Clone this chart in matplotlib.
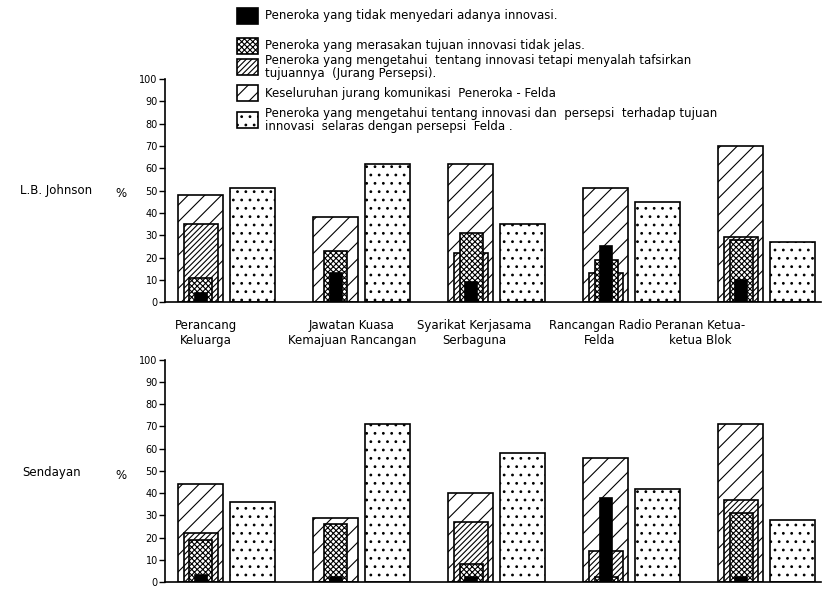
import matplotlib
matplotlib.use("Agg")
import matplotlib.pyplot as plt
import matplotlib.patches as mpatches
import numpy as np

groups = ["Perancang\nKeluarga", "Jawatan Kuasa\nKemajuan Rancangan",
          "Syarikat Kerjasama\nSerbaguna", "Rancangan Radio\nFelda",
          "Peranan Ketua-\nketua Blok"]

# L.B. Johnson (%)
overall_lbj = [48, 38, 62, 51, 70]
persepsi_lbj = [35, 0, 22, 13, 29]
tidak_jelas_lbj = [11, 23, 31, 19, 28]
tidak_sedar_lbj = [4, 13, 9, 25, 10]
selaras_lbj = [51, 62, 35, 45, 27]

# Sendayan (%)
overall_sen = [44, 29, 40, 56, 71]
persepsi_sen = [22, 0, 27, 14, 37]
tidak_jelas_sen = [19, 26, 8, 2, 31]
tidak_sedar_sen = [3, 2, 2, 38, 2]
selaras_sen = [36, 71, 58, 42, 28]

legend_labels = [
    "Peneroka yang tidak menyedari adanya innovasi.",
    "Peneroka yang merasakan tujuan innovasi tidak jelas.",
    "Peneroka yang mengetahui  tentang innovasi tetapi menyalah tafsirkan\ntujuannya  (Jurang Persepsi).",
    "Keseluruhan jurang komunikasi  Peneroka - Felda",
    "Peneroka yang mengetahui tentang innovasi dan  persepsi  terhadap tujuan\ninnovasi  selaras dengan persepsi  Felda .",
]

# fill style of each series: (facecolor, hatch)
styles = [("black", None), ("white", "xxxxxx"), ("white", "//////"),
          ("white", "//"), ("white", "..")]

plt.rcParams["hatch.linewidth"] = 0.8
plt.rcParams["font.family"] = "DejaVu Sans"

W, H = 828, 589
fig = plt.figure(figsize=(W / 100, H / 100), dpi=100)
ax_top = fig.add_axes([0.199, 0.487, 0.792, 0.379])
ax_bot = fig.add_axes([0.199, 0.012, 0.792, 0.377])

x = np.arange(len(groups))


def draw_panel(ax, overall, persepsi, tidak_jelas, tidak_sedar, selaras):
    kw = dict(align="edge", edgecolor="black", linewidth=1.2)
    ax.bar(x, overall, width=0.333, facecolor=styles[3][0], hatch=styles[3][1], **kw)
    ax.bar(x + 0.045, persepsi, width=0.25, facecolor=styles[2][0], hatch=styles[2][1], **kw)
    ax.bar(x + 0.085, tidak_jelas, width=0.17, facecolor=styles[1][0], hatch=styles[1][1], **kw)
    ax.bar(x + 0.125, tidak_sedar, width=0.09, facecolor=styles[0][0], **kw)
    ax.bar(x + 0.385, selaras, width=0.333, facecolor=styles[4][0], hatch=styles[4][1], **kw)

    ax.set_xlim(-0.096, 4.756)
    ax.set_ylim(0, 100)
    ax.set_yticks(range(0, 101, 10))
    ax.tick_params(axis="y", labelsize=7, length=4, width=1, pad=1)
    ax.set_xticks([])
    ax.spines["top"].set_visible(False)
    ax.spines["right"].set_visible(False)
    ax.spines["left"].set_linewidth(1.2)
    ax.spines["bottom"].set_linewidth(1.2)
    ax.patch.set_alpha(0)


draw_panel(ax_top, overall_lbj, persepsi_lbj, tidak_jelas_lbj, tidak_sedar_lbj, selaras_lbj)
draw_panel(ax_bot, overall_sen, persepsi_sen, tidak_jelas_sen, tidak_sedar_sen, selaras_sen)

# category labels sit between the two panels
label_x = [206, 352, 474, 600, 700]
for lx, name in zip(label_x, groups):
    fig.text(lx / W, 0.435, name, ha="center", va="center",
             fontsize=8.5, linespacing=1.15, multialignment="center")

fig.text(20 / W, 0.677, "L.B. Johnson", fontsize=8.5, va="center")
fig.text(115 / W, 0.672, "%", fontsize=8.5, va="center")
fig.text(22 / W, 0.197, "Sendayan", fontsize=8.5, va="center")
fig.text(115 / W, 0.192, "%", fontsize=8.5, va="center")

# hand-placed legend at the top (pixel rows of the scanned original)
row_y = [16, 46, 67, 93, 120]
for (fc, hatch), label, ry in zip(styles, legend_labels, row_y):
    box = mpatches.Rectangle((237 / W, 1 - (ry + 8) / H), 21 / W, 16 / H,
                             transform=fig.transFigure, facecolor=fc,
                             edgecolor="black", hatch=hatch, linewidth=1.2)
    fig.patches.append(box)
    fig.text(265 / W, 1 - ry / H, label, fontsize=8.5, va="center",
             linespacing=0.95)

fig.savefig("out.png", dpi=100)
